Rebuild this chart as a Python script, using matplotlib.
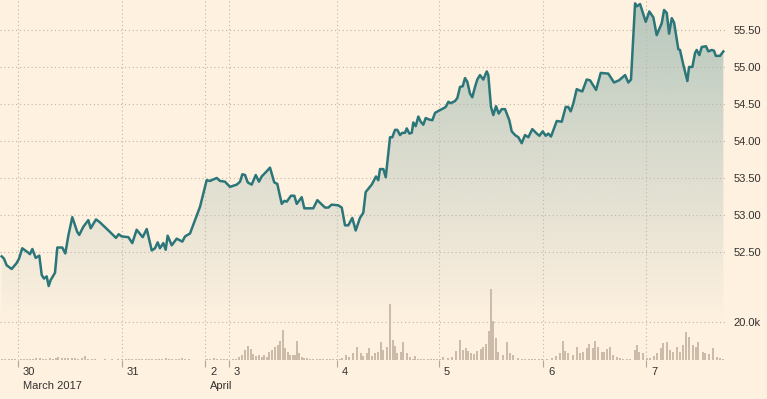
import numpy as np
import matplotlib
import matplotlib.pyplot as plt
from matplotlib import transforms

# price, x in days from 30 March 00:00 (trading-time axis, weekend compressed)
price_t = [-0.157, -0.135, -0.109, -0.061, -0.013, 0.010, 0.041, 0.099, 0.115, 0.138,
           0.170, 0.205, 0.228, 0.250, 0.276, 0.295, 0.314, 0.356, 0.378, 0.426,
           0.455, 0.484, 0.522, 0.570, 0.589, 0.628, 0.676, 0.699, 0.750, 0.788,
           0.885, 0.942, 0.968, 0.997, 1.061, 1.099, 1.141, 1.199, 1.238, 1.286,
           1.317, 1.343, 1.365, 1.397, 1.420, 1.439, 1.478, 1.526, 1.580, 1.606, 1.654,
           1.750, 1.814, 1.846, 1.878, 1.911, 1.942, 1.990, 2.038, 2.103, 2.135,
           2.157, 2.183, 2.209, 2.247, 2.286, 2.317, 2.343, 2.391, 2.423, 2.464,
           2.493, 2.536, 2.561, 2.584, 2.625, 2.657, 2.680, 2.728, 2.753, 2.839,
           2.878, 2.952, 2.984, 3.016, 3.080, 3.113, 3.144, 3.176, 3.214, 3.247,
           3.288, 3.320, 3.343, 3.401, 3.442, 3.464, 3.481, 3.513, 3.536,
           3.577, 3.599, 3.625, 3.647, 3.673, 3.695, 3.721, 3.738, 3.763, 3.786,
           3.801, 3.824, 3.849, 3.872, 3.897, 3.920, 3.952, 3.984, 4.010, 4.048,
           4.089, 4.113, 4.138, 4.161, 4.202, 4.224, 4.250, 4.276, 4.298, 4.320,
           4.346, 4.368, 4.394, 4.416, 4.442, 4.474, 4.507, 4.522, 4.548, 4.570,
           4.596, 4.622, 4.651, 4.683, 4.724, 4.747, 4.779, 4.811, 4.843, 4.875,
           4.907, 4.945, 4.988, 5.013, 5.045, 5.074, 5.099, 5.125, 5.180, 5.228,
           5.266, 5.291, 5.314, 5.340, 5.372, 5.404,
           5.426, 5.468, 5.500, 5.558, 5.603, 5.676, 5.731, 5.779, 5.837, 5.868,
           5.894, 5.933, 5.949, 5.981, 6.036, 6.070, 6.109, 6.141, 6.189, 6.212,
           6.238, 6.260, 6.286, 6.308, 6.349, 6.365, 6.397, 6.436, 6.452, 6.484,
           6.510, 6.526, 6.551, 6.574, 6.615, 6.638, 6.670, 6.692, 6.709, 6.750, 6.782]
price = [52.44, 52.41, 52.32, 52.27, 52.35, 52.41, 52.55, 52.49, 52.47, 52.54,
         52.42, 52.45, 52.19, 52.14, 52.17, 52.04, 52.12, 52.22, 52.56, 52.56,
         52.48, 52.72, 52.97, 52.77, 52.73, 52.84, 52.93, 52.82, 52.94, 52.90,
         52.77, 52.69, 52.74, 52.71, 52.70, 52.62, 52.80, 52.70, 52.81, 52.52,
         52.55, 52.63, 52.55, 52.62, 52.53, 52.72, 52.59, 52.68, 52.64, 52.71, 52.75,
         53.11, 53.47, 53.46, 53.48, 53.50, 53.46, 53.45, 53.38, 53.41, 53.45,
         53.55, 53.54, 53.44, 53.41, 53.54, 53.45, 53.52, 53.59, 53.64, 53.44,
         53.42, 53.15, 53.19, 53.18, 53.26, 53.26, 53.15, 53.24, 53.09, 53.09,
         53.20, 53.10, 53.10, 53.14, 53.13, 53.10, 52.86, 52.86, 52.96, 52.79,
         52.96, 53.03, 53.31, 53.41, 53.52, 53.47, 53.62, 53.62, 53.51,
         54.05, 54.05, 54.15, 54.15, 54.08, 54.11, 54.11, 54.17, 54.10, 54.11,
         54.25, 54.20, 54.33, 54.26, 54.22, 54.31, 54.29, 54.28, 54.38, 54.41,
         54.44, 54.46, 54.53, 54.51, 54.54, 54.58, 54.73, 54.74, 54.85, 54.80,
         54.64, 54.59, 54.73, 54.83, 54.89, 54.83, 54.94, 54.89, 54.46, 54.35,
         54.47, 54.37, 54.43, 54.43, 54.28, 54.13, 54.08, 54.05, 53.97, 54.08,
         54.05, 54.16, 54.10, 54.07, 54.13, 54.07, 54.10, 54.06, 54.27, 54.26,
         54.46, 54.46, 54.40, 54.51, 54.70, 54.68,
         54.67, 54.83, 54.82, 54.69, 54.92, 54.91, 54.79, 54.82, 54.89, 54.79,
         54.83, 55.86, 55.82, 55.85, 55.61, 55.75, 55.67, 55.43, 55.59, 55.77,
         55.73, 55.45, 55.66, 55.60, 55.24, 55.23, 55.03, 54.81, 55.00, 55.00,
         55.19, 55.23, 55.16, 55.27, 55.28, 55.21, 55.23, 55.22, 55.15, 55.15, 55.21]

# volume (thousands)
vol_t = [-0.154, -0.125, -0.087, -0.058, -0.029, 0.029, 0.058, 0.087, 0.115, 0.144,
         0.173, 0.212, 0.240, 0.269, 0.308, 0.337, 0.365, 0.385, 0.423, 0.452,
         0.481, 0.519, 0.548, 0.577, 0.615, 0.644, 0.673, 0.712, 0.740, 0.837, 0.904,
         0.962, 1.0, 1.038, 1.067, 1.096, 1.135, 1.163, 1.192, 1.231, 1.260,
         1.288, 1.327, 1.356, 1.385, 1.423, 1.452, 1.481, 1.519, 1.548, 1.577, 1.606, 1.644,
         1.817, 1.846, 1.885, 1.913, 1.952, 1.981, 2.010,
         2.067, 2.096, 2.125, 2.154, 2.183, 2.212, 2.240, 2.260, 2.288, 2.317,
         2.346, 2.365, 2.394, 2.413, 2.442, 2.471, 2.500, 2.519, 2.548, 2.567,
         2.596, 2.615, 2.644, 2.663, 2.683, 2.702, 2.731, 2.750, 2.779, 2.808,
         2.837, 2.875, 2.904, 2.933, 2.971, 3.0, 3.029,
         3.067, 3.096, 3.115, 3.154, 3.183, 3.221, 3.260, 3.298, 3.317, 3.356,
         3.375, 3.404, 3.433, 3.462, 3.490, 3.510, 3.548, 3.577, 3.606, 3.625,
         3.644, 3.683, 3.702, 3.740, 3.769, 3.798, 3.817, 3.846, 3.875, 3.904,
         3.942, 3.971, 4.0, 4.029, 4.058, 4.087, 4.135,
         4.173, 4.212, 4.250, 4.279, 4.308, 4.327, 4.356, 4.385, 4.413, 4.452,
         4.471, 4.5, 4.529, 4.548, 4.567, 4.596, 4.615, 4.663, 4.702, 4.731,
         4.760, 4.808, 4.846, 4.875, 4.913, 4.942, 4.971, 5.010, 5.038,
         5.087, 5.135, 5.173, 5.212, 5.240, 5.260, 5.288, 5.337, 5.375, 5.404,
         5.433, 5.471, 5.490, 5.529, 5.548, 5.577, 5.615, 5.635, 5.663, 5.692,
         5.721, 5.760, 5.788, 5.817, 5.856, 5.885, 5.933, 5.952, 5.971, 6.010, 6.048,
         6.077, 6.115, 6.144, 6.183, 6.202, 6.240, 6.269, 6.298, 6.337, 6.365,
         6.394, 6.423, 6.452, 6.490, 6.519, 6.538, 6.587, 6.606, 6.644, 6.683,
         6.721, 6.750, 6.779]
vol_k = [0.5, 0.5, 0.5, 0.5, 0.5, 0.5, 0.5, 0.5, 0.5, 0.5,
         1.0, 1.0, 0.5, 0.5, 1.0, 0.5, 1.0, 1.6, 1.0, 1.0,
         1.0, 1.0, 1.0, 0.5, 1.0, 2.1, 0.5, 0.5, 0.5, 0.5, 0.5,
         0.5, 0.5, 0.5, 0.5, 0.5, 0.5, 0.5, 0.5, 0.5, 0.5,
         0.5, 0.5, 0.5, 0.5, 1.0, 0.5, 0.5, 0.5, 0.5, 1.0, 0.5, 0.5,
         0.5, 0.5, 1.0, 0.5, 0.5, 0.5, 0.5,
         0.5, 0.5, 1.6, 2.6, 5.2, 7.3, 5.7, 3.1, 2.1, 2.6,
         1.6, 2.6, 1.6, 4.2, 5.2, 6.8, 7.8, 9.9, 15.7, 6.3,
         4.2, 2.6, 2.6, 2.6, 9.9, 3.7, 1.6, 1.0, 1.0, 0.5,
         0.5, 0.5, 0.5, 0.5, 0.5, 0.5, 0.5,
         0.5, 0.5, 1.0, 2.6, 1.6, 3.7, 6.8, 3.7, 2.1, 3.7,
         6.3, 2.1, 3.7, 4.2, 9.4, 5.2, 6.8, 29.2, 10.4, 7.3,
         3.7, 4.2, 9.4, 3.7, 1.6, 0.5, 2.1, 0.5, 0.5, 0.5,
         0.5, 0.5, 0.5, 0.5, 0.5, 1.6, 1.0,
         1.6, 4.7, 10.4, 5.2, 6.3, 4.7, 3.7, 3.1, 4.7, 5.7,
         6.8, 8.4, 15.1, 37.1, 20.4, 11.5, 4.2, 2.6, 9.4, 3.7,
         2.6, 1.0, 0.5, 0.5, 0.5, 0.5, 0.5, 0.5, 0.5,
         0.5, 1.0, 2.1, 3.7, 9.9, 4.7, 3.7, 2.6, 6.8, 3.7,
         4.2, 6.3, 8.4, 6.3, 9.9, 6.8, 4.2, 4.2, 5.7, 6.8,
         2.6, 1.6, 1.0, 0.5, 0.5, 0.5, 5.2, 7.8, 4.2, 3.7, 1.0,
         1.0, 2.1, 3.7, 6.3, 8.9, 9.4, 5.2, 4.2, 6.8, 4.2,
         7.8, 14.6, 12.0, 7.8, 6.8, 9.4, 4.2, 3.7, 3.1, 6.3,
         1.6, 1.0, 0.5]

day_pos = [0.0, 1.0, 1.798, 2.029, 3.067, 4.048, 5.048, 6.038]
day_labels = ['30', '31', '2', '3', '4', '5', '6', '7']
month_labels = {'30': 'March 2017', '2': 'April'}
price_ticks = [52.5, 53.0, 53.5, 54.0, 54.5, 55.0, 55.5]
vol_ticks = [20]

plt.rcParams['font.family'] = ['Liberation Sans', 'DejaVu Sans']

bg = '#fff1e0'
teal = '#2a7679'
txt = '#33302e'
gridc = '#c2b6a9'
dots = (0, (1, 2.5))

fig = plt.figure(figsize=(7.67, 3.99), dpi=100, facecolor=bg)
ax = fig.add_axes([0, 39 / 399, 727 / 767, 360 / 399])
axv = fig.add_axes([0, 39 / 399, 727 / 767, 80 / 399], sharex=ax)

ax.set_facecolor(bg)
axv.patch.set_visible(False)

xlo, xhi = -0.173, 6.817
ylo, yhi = 51.04, 55.905

# gradient fill under the price line
poly = ax.fill_between(price_t, price, ylo, color='none', lw=0)
grad = np.zeros((256, 1, 4))
grad[..., :3] = matplotlib.colors.to_rgb(teal)
grad[:, 0, 3] = np.linspace(0, 0.34, 256)
img = ax.imshow(grad, extent=[xlo, xhi, 51.5, yhi], origin='lower', aspect='auto', zorder=1)
img.set_clip_path(poly.get_paths()[0], ax.transData)

ax.plot(price_t, price, color=teal, lw=1.8, zorder=3, solid_joinstyle='round')

axv.bar(vol_t, vol_k, width=0.026, color='#cbbba8', lw=0, zorder=2)

ax.set_xlim(xlo, xhi)
ax.set_ylim(ylo, yhi)
axv.set_ylim(0, 41.8)

for a in (ax, axv):
    for s in a.spines.values():
        s.set_visible(False)

ax.set_xticks(day_pos)
ax.set_yticks(price_ticks)
ax.set_yticklabels(['%.2f' % v for v in price_ticks])
ax.yaxis.tick_right()
ax.tick_params(axis='y', length=0, pad=4.5, labelsize=8, labelcolor=txt)
ax.tick_params(axis='x', length=0, labelbottom=False)
ax.grid(True, color=gridc, linestyle=dots, lw=0.8, zorder=0)

axv.set_yticks(vol_ticks)
axv.set_yticklabels(['%.1fk' % v for v in vol_ticks])
axv.yaxis.tick_right()
axv.tick_params(axis='y', length=0, pad=4.5, labelsize=8, labelcolor=txt)
axv.tick_params(axis='x', direction='out', length=5, width=0.8, color='#b3a798', labelbottom=False)
axv.grid(True, axis='y', color=gridc, linestyle=dots, lw=0.8)
axv.grid(False, axis='x')

trans = transforms.blended_transform_factory(axv.transData, axv.transAxes)
t1 = transforms.offset_copy(trans, fig, x=3.6, y=-8.5, units='points')
t2 = transforms.offset_copy(trans, fig, x=3.6, y=-18.5, units='points')
for pos, lab in zip(day_pos, day_labels):
    axv.text(pos, 0, lab, transform=t1, ha='left', va='center', fontsize=8, color=txt)
    if lab in month_labels:
        axv.text(pos, 0, month_labels[lab], transform=t2, ha='left', va='center', fontsize=8, color=txt)

fig.savefig('out.png', dpi=100, facecolor=bg)
